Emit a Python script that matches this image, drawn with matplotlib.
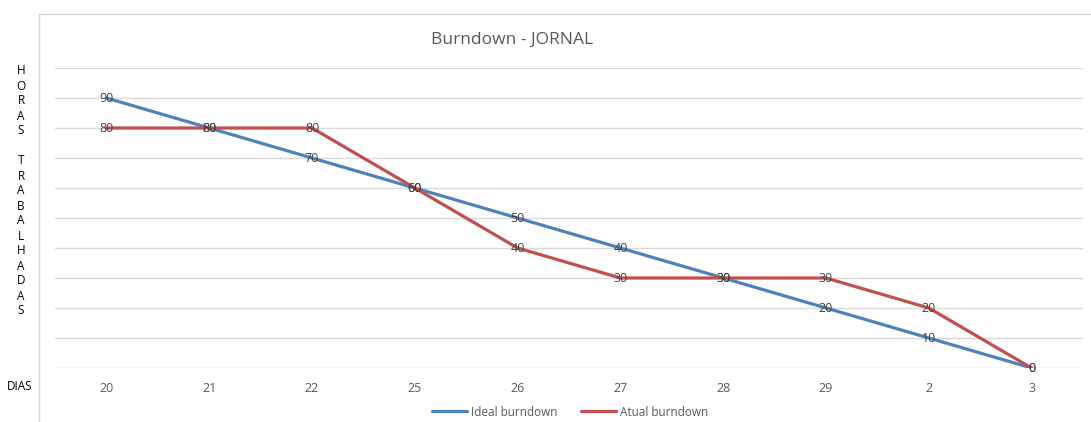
import matplotlib

matplotlib.use("Agg")
import matplotlib.pyplot as plt
from matplotlib.lines import Line2D

plt.rcParams["font.family"] = ["Open Sans", "DejaVu Sans"]

dias = ["20", "21", "22", "25", "26", "27", "28", "29", "2", "3"]
ideal = [90, 80, 70, 60, 50, 40, 30, 20, 10, 0]
atual = [80, 80, 80, 60, 40, 30, 30, 30, 20, 0]

BLUE = "#4F81BD"
RED = "#C0504D"
GRID = "#D9D9D9"
TEXT = "#595959"

W, H = 1091, 422
fig = plt.figure(figsize=(W / 100, H / 100), dpi=100, facecolor="white")
ax = fig.add_axes([55 / W, 1 - 368 / H, (1083 - 55) / W, 300 / H])

x = list(range(len(dias)))
ax.plot(x, ideal, color=BLUE, lw=2.3, label="Ideal burndown", solid_capstyle="round")
ax.plot(x, atual, color=RED, lw=2.3, label="Atual burndown", solid_capstyle="round")

for xi, v in zip(x, ideal):
    ax.text(xi, v, str(v), ha="center", va="center", fontsize=9, color="#404040")
for xi, v in zip(x, atual):
    ax.text(xi, v, str(v), ha="center", va="center", fontsize=9, color="#404040")

ax.set_xlim(-0.5, len(dias) - 0.5)
ax.set_ylim(0, 100)
ax.set_yticks(range(0, 101, 10))
ax.set_yticklabels([])
ax.set_xticks(x)
ax.set_xticklabels(dias, fontsize=9, color=TEXT)
ax.tick_params(axis="both", length=0)
ax.tick_params(axis="x", pad=10)
ax.grid(axis="y", color=GRID, lw=1)
ax.set_axisbelow(True)
for s in ax.spines.values():
    s.set_visible(False)

fig.text(512 / W, 1 - 40 / H, "Burndown - JORNAL", ha="center", va="center",
         fontsize=12.5, color=TEXT)

# vertical stacked axis title
letters = list("HORAS") + [""] + list("TRABALHADAS")
for i, ch in enumerate(letters):
    fig.text(21 / W, 1 - (71 + 15 * i) / H, ch, ha="center", va="center",
             fontsize=8.5, color="black")
fig.text(20 / W, 1 - 386 / H, "DIAS", ha="center", va="center", fontsize=8.5,
         color="black")

# sheet frame
fig.add_artist(Line2D([39 / W, 39 / W], [0, 1 - 14 / H], transform=fig.transFigure,
                      color=GRID, lw=1))
fig.add_artist(Line2D([39 / W, 1], [1 - 14 / H, 1 - 14 / H], transform=fig.transFigure,
                      color=GRID, lw=1))

fig.legend(loc="center", bbox_to_anchor=(570 / W, 1 - 412 / H), ncol=2, frameon=False,
           fontsize=8.5, handlelength=3, columnspacing=2, handletextpad=0.3,
           labelcolor=TEXT)

fig.savefig("out.png", dpi=100, facecolor="white")
